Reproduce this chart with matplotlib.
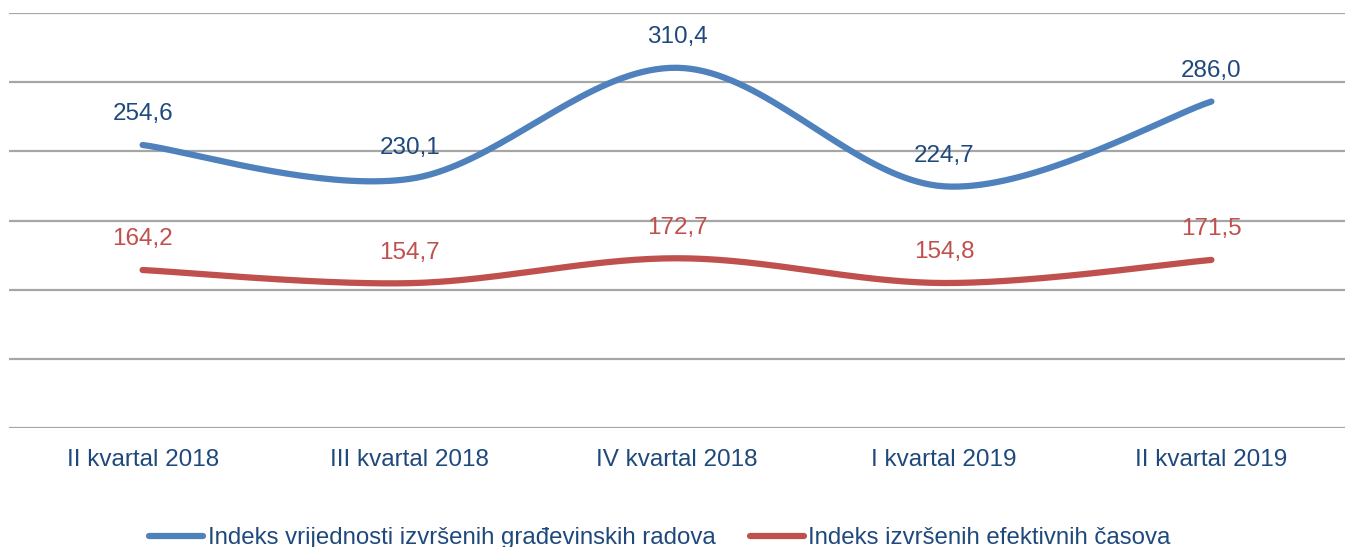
import numpy as np
import matplotlib.pyplot as plt

plt.rcParams['font.family'] = ['Liberation Sans', 'DejaVu Sans']

categories = ["II kvartal 2018", "III kvartal 2018", "IV kvartal 2018",
              "I kvartal 2019", "II kvartal 2019"]
vrijednost = [254.6, 230.1, 310.4, 224.7, 286.0]
casovi = [164.2, 154.7, 172.7, 154.8, 171.5]

label_vrijednost = "Indeks vrijednosti izvršenih građevinskih radova"
label_casovi = "Indeks izvršenih efektivnih časova"

BLUE = "#4F81BD"
RED = "#C0504D"
DARK = "#1F497D"
GRID = "#A6A6A6"


def smooth_line(ax, xs, ys, n=40):
    """Excel-like smoothed line: Catmull-Rom Bezier built in display space."""
    pts = ax.transData.transform(np.column_stack([xs, ys]))
    p = np.vstack([pts[0], pts, pts[-1]])
    out = []
    for i in range(1, len(p) - 2):
        p0, p1, p2, p3 = p[i - 1], p[i], p[i + 1], p[i + 2]
        c1 = p1 + (p2 - p0) / 6.0
        c2 = p2 - (p3 - p1) / 6.0
        t = np.linspace(0, 1, n)[:, None]
        seg = ((1 - t) ** 3) * p1 + 3 * ((1 - t) ** 2) * t * c1 \
            + 3 * (1 - t) * t ** 2 * c2 + t ** 3 * p2
        out.append(seg if i == 1 else seg[1:])
    out = np.vstack(out)
    return ax.transData.inverted().transform(out)


fig = plt.figure(figsize=(13.47, 5.47), dpi=100)
ax = fig.add_axes([9 / 1347, 119 / 547, 1336 / 1347, 415 / 547])
x = np.arange(len(categories))
ax.set_xlim(-0.5, len(categories) - 0.5)
ax.set_ylim(50, 350)

for yv in range(50, 351, 50):
    ax.axhline(yv, color=GRID, linewidth=1.6, zorder=1)

for ys, color, lab, tcolor in [(vrijednost, BLUE, label_vrijednost, DARK),
                               (casovi, RED, label_casovi, RED)]:
    curve = smooth_line(ax, x, ys)
    ax.plot(curve[:, 0], curve[:, 1], color=color, linewidth=4.5,
            solid_capstyle='round', label=lab, zorder=3)
    for xi, yi in zip(x, ys):
        ax.annotate(f"{yi:.1f}".replace(".", ","), (xi, yi),
                    xytext=(0, 22), textcoords='offset points',
                    ha='center', va='center', fontsize=17.5, color=tcolor)

ax.set_xticks(x)
ax.set_xticklabels(categories, fontsize=17.5, color=DARK)
ax.tick_params(axis='x', length=0, pad=15)
ax.set_yticks([])
for s in ax.spines.values():
    s.set_visible(False)

fig.legend(loc='center', bbox_to_anchor=(660 / 1347, 9 / 547), ncol=2,
           frameon=False, fontsize=17.3, handlelength=2.25, handletextpad=0.2,
           columnspacing=1.4, borderpad=0, labelcolor=DARK)

fig.savefig("out.png", dpi=100)
